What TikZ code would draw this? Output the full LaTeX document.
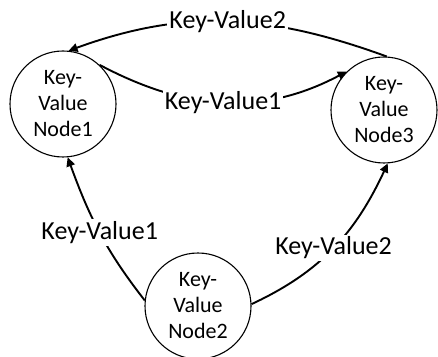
\documentclass[tikz,border=0pt]{standalone}
\usepackage{fontspec}
\setmainfont{Carlito}
\usetikzlibrary{arrows.meta}

\begin{document}
\begin{tikzpicture}[
    x=1pt, y=1pt,
    kvnode/.style={draw, circle, line width=1.1pt, minimum size=106pt, inner sep=0pt, align=center, font=\fontsize{22}{26}\selectfont},
    arrow/.style={-{Triangle[length=9pt, width=8.5pt]}, line width=1.9pt},
    kvlabel/.style={fill=white, inner sep=2pt, font=\fontsize{26}{30}\selectfont}
]
\useasboundingbox (0,0) rectangle (438,356);
% Nodes
\node[kvnode] (n1) at (63,252) {Key-\\Value\\Node1};
\node[kvnode] (n3) at (384,246) {Key-\\Value\\Node3};
\node[kvnode] (n2) at (198,50) {Key-\\Value\\Node2};

% Arrows
\draw[arrow] (n3.87) to[out=160, in=20] node[kvlabel] {Key-Value2} (n1.84);
\draw[arrow] (n1.47) to[out=-28, in=208] node[kvlabel] {Key-Value1} (n3.134);
\draw[arrow] (n2.174) to[out=128, in=290] node[kvlabel] {Key-Value1} (n1.275);
\draw[arrow] (n2.2) to[out=25, in=245] node[kvlabel] {Key-Value2} (n3.274);
\end{tikzpicture}
\end{document}
